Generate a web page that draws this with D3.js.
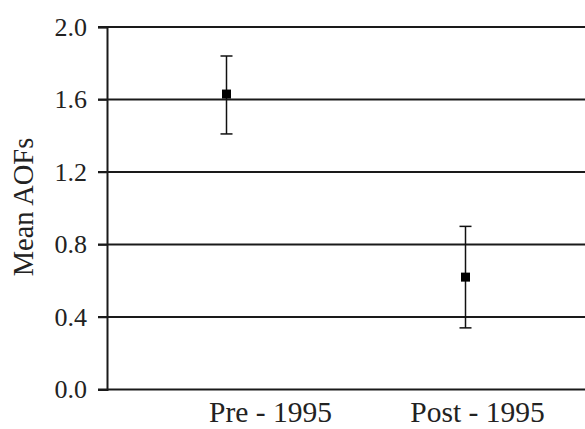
<!DOCTYPE html>
<html>
<head>
<meta charset="utf-8">
<script src="https://cdn.jsdelivr.net/npm/d3@7"></script>
<style>
  html, body { margin: 0; padding: 0; background: #fff; }
  svg text { font-family: "Liberation Serif", "Times New Roman", serif; fill: #222; }
</style>
</head>
<body>
<svg id="chart" width="585" height="429"></svg>
<script>
'use strict';

// values
var periods = ['Pre - 1995', 'Post - 1995'];
var means = [1.63, 0.62];
var upper = [1.84, 0.90];
var lower = [1.41, 0.34];
var yTicks = [0, 0.4, 0.8, 1.2, 1.6, 2.0];
var labelShift = [44, 12];

var margin = {top: 27, right: 0, bottom: 39.5, left: 107};
var width = 585, height = 429;

var svg = d3.select('#chart');

var x = d3.scaleBand()
  .domain(periods)
  .range([margin.left, width - margin.right]);

var y = d3.scaleLinear()
  .domain([0, 2])
  .range([height - margin.bottom, margin.top]);

// horizontal grid lines
svg.append('g')
  .selectAll('line')
  .data(yTicks)
  .join('line')
    .attr('x1', margin.left - 9)
    .attr('x2', width)
    .attr('y1', function(d){ return y(d); })
    .attr('y2', function(d){ return y(d); })
    .attr('stroke', '#1a1a1a')
    .attr('stroke-width', 2.2);

// y axis
var yAxis = svg.append('g')
  .attr('transform', 'translate(' + margin.left + ',0)')
  .call(d3.axisLeft(y).tickValues(yTicks).tickFormat(d3.format('.1f')).tickSize(9).tickPadding(11));

yAxis.select('.domain').attr('stroke', '#1a1a1a').attr('stroke-width', 2);
yAxis.selectAll('.tick line').attr('stroke', '#1a1a1a').attr('stroke-width', 1.5);
yAxis.selectAll('.tick text')
  .attr('font-size', 26)
  .attr('font-family', '"Liberation Serif", serif')
  .attr('fill', '#222');

// y title
svg.append('text')
  .attr('transform', 'translate(33,' + 207 + ') rotate(-90)')
  .attr('text-anchor', 'middle')
  .attr('font-size', 28.5)
  .text('Mean AOFs');

// category labels
svg.append('g')
  .selectAll('text')
  .data(periods)
  .join('text')
    .attr('x', function(d, i){ return x(d) + x.bandwidth() / 2 + labelShift[i]; })
    .attr('y', 422)
    .attr('text-anchor', 'middle')
    .attr('font-size', 29.5)
    .text(function(d){ return d; });

// error bars
var bars = svg.append('g')
  .selectAll('g')
  .data(periods)
  .join('g')
    .attr('transform', function(d){ return 'translate(' + (x(d) + x.bandwidth() / 2) + ',0)'; });

bars.append('line')
  .attr('y1', function(d, i){ return y(upper[i]); })
  .attr('y2', function(d, i){ return y(lower[i]); })
  .attr('stroke', '#111')
  .attr('stroke-width', 1.5);

bars.append('line')
  .attr('x1', -6).attr('x2', 6)
  .attr('y1', function(d, i){ return y(upper[i]); })
  .attr('y2', function(d, i){ return y(upper[i]); })
  .attr('stroke', '#111')
  .attr('stroke-width', 1.5);

bars.append('line')
  .attr('x1', -6).attr('x2', 6)
  .attr('y1', function(d, i){ return y(lower[i]); })
  .attr('y2', function(d, i){ return y(lower[i]); })
  .attr('stroke', '#111')
  .attr('stroke-width', 1.5);

bars.append('rect')
  .attr('x', -4.5)
  .attr('y', function(d, i){ return y(means[i]) - 4.5; })
  .attr('width', 9)
  .attr('height', 9)
  .attr('fill', '#000');
</script>
</body>
</html>
